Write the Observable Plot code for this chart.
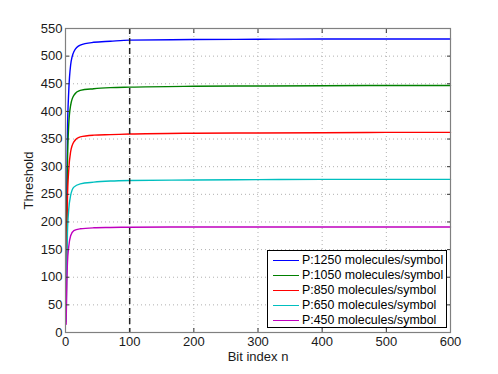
<!DOCTYPE html>
<html><head><meta charset="utf-8">
<script src="https://cdn.jsdelivr.net/npm/d3@7"></script>
<script src="https://cdn.jsdelivr.net/npm/@observablehq/plot@0.6"></script>
<style>
body{margin:0;background:#fff;font-family:"Liberation Sans",Arial,sans-serif;}
#wrap{position:relative;width:498px;height:374px;}
#legend{position:absolute;left:267px;top:250px;width:178px;height:76px;border:1px solid #000;background:#fff;font-size:12.4px;color:#000;}
#legend .row{position:absolute;left:0;height:15px;line-height:15px;white-space:nowrap;}
#legend .sw{position:absolute;left:5px;top:7px;width:26px;height:0;border-top:1.5px solid;}
#legend .tx{position:absolute;left:34px;top:0;}
</style></head><body>
<div id="wrap"><div id="chart"></div><div id="legend"></div></div>
<script>
const n = [1, 2, 3, 5, 8, 13, 23, 44, 70, 100, 200, 300, 400, 500, 600];
const p1250 = [40, 250, 360, 435, 484, 508, 520, 525, 527, 529, 530, 530.5, 531, 531, 531];
const p1050 = [30, 200, 300, 375, 411, 429, 438, 441, 443, 444, 445.5, 446, 446.5, 447, 447];
const p850 = [25, 160, 240, 293, 327, 345, 354, 357, 358, 359, 360.5, 361, 361.5, 362, 362];
const p650 = [20, 120, 180, 222, 248, 263, 269, 272, 274, 275, 276, 276.5, 277, 277, 277];
const p450 = [15, 90, 125, 155, 175, 184.5, 187.6, 189.4, 190, 190.5, 191, 191, 191, 191, 191];
const seriesNames = ["P:1250 molecules/symbol","P:1050 molecules/symbol","P:850 molecules/symbol","P:650 molecules/symbol","P:450 molecules/symbol"];
const seriesColors = ["#0000ff","#008000","#ff0000","#00bfbf","#bf00bf"];
const seriesValues = [p1250, p1050, p850, p650, p450];
const xTicks = [0,100,200,300,400,500,600];
const yTicks = [0,50,100,150,200,250,300,350,400,450,500,550];
const markerN = [100];

const rows = [];
seriesValues.forEach((vals, i) => vals.forEach((v, j) => rows.push({n: n[j], v, s: seriesNames[i]})));

const chart = Plot.plot({
  width: 498, height: 374,
  marginLeft: 65, marginRight: 48, marginTop: 28, marginBottom: 42,
  style: {fontFamily: '"Liberation Sans", Arial, sans-serif', fontSize: "13px", color: "#1a1a1a", background: "#fff"},
  x: {domain: [0, 600], ticks: xTicks},
  y: {domain: [0, 550], ticks: yTicks},
  color: {domain: seriesNames, range: seriesColors},
  marks: [
    Plot.gridX(xTicks, {stroke: "#b0b0b0", strokeOpacity: 1, strokeDasharray: "1,3"}),
    Plot.gridY(yTicks, {stroke: "#b0b0b0", strokeOpacity: 1, strokeDasharray: "1,3"}),
    Plot.line(rows, {x: "n", y: "v", z: "s", stroke: "s", strokeWidth: 1.4, curve: "monotone-x"}),
    Plot.ruleX(markerN, {stroke: "#222", strokeWidth: 1.5, strokeDasharray: "6,4"}),
    Plot.axisX(xTicks, {anchor: "bottom", tickSize: 0, tickPadding: 4, label: "Bit index n", labelAnchor: "center", labelOffset: 28, labelArrow: "none", fontSize: 13}),
    Plot.axisY(yTicks, {anchor: "left", tickSize: 0, tickPadding: 3, label: "Threshold", labelAnchor: "center", labelOffset: 42, labelArrow: "none", fontSize: 13}),
    Plot.axisX(xTicks, {anchor: "bottom", tickSize: -4, text: null, label: null, stroke: "#333"}),
    Plot.axisX(xTicks, {anchor: "top", tickSize: -4, text: null, label: null, stroke: "#333"}),
    Plot.axisY(yTicks, {anchor: "left", tickSize: -4, text: null, label: null, stroke: "#333"}),
    Plot.axisY(yTicks, {anchor: "right", tickSize: -4, text: null, label: null, stroke: "#333"}),
    Plot.frame({stroke: "#808080", strokeWidth: 1.2})
  ]
});
document.getElementById("chart").appendChild(chart);

const lg = document.getElementById("legend");
seriesNames.forEach((name, i) => {
  const r = document.createElement("div");
  r.className = "row";
  r.style.top = (2 + i * 15) + "px";
  r.innerHTML = `<span class="sw" style="border-color:${seriesColors[i]}"></span><span class="tx">${name}</span>`;
  lg.appendChild(r);
});
</script>
</body></html>
